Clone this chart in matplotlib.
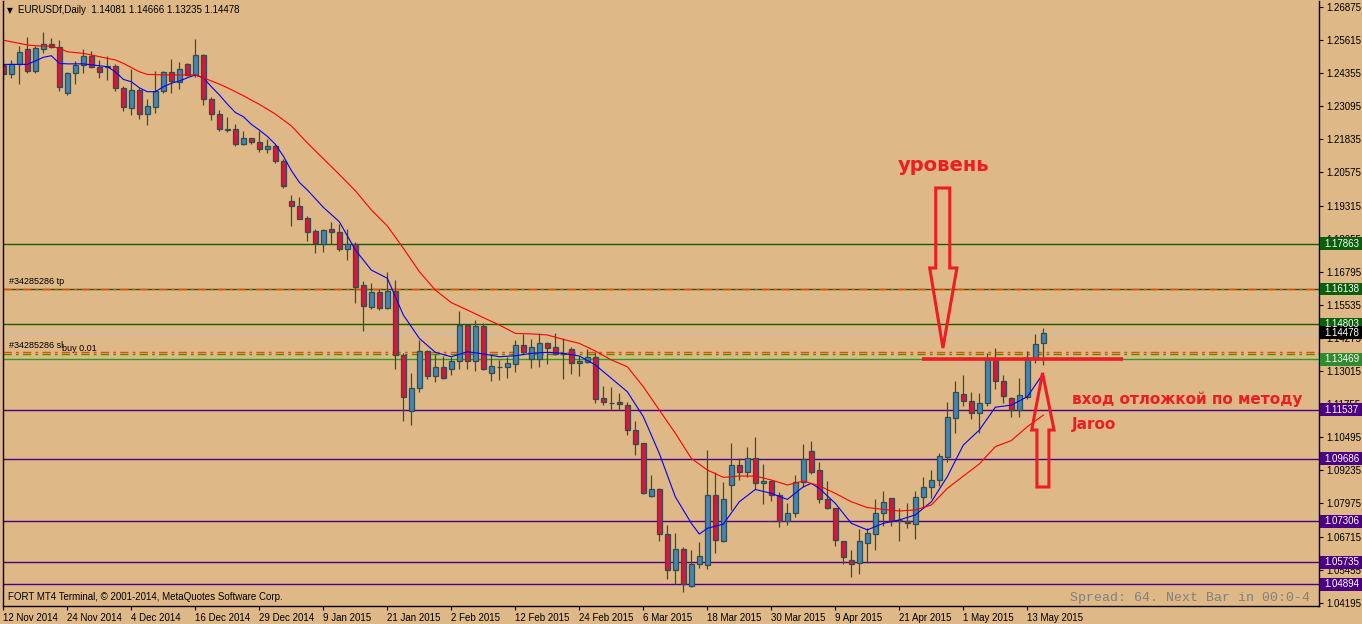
import matplotlib
matplotlib.use("Agg")
import matplotlib.pyplot as plt
import matplotlib.transforms as mtransforms
from matplotlib.patches import Polygon, Rectangle
import numpy as np

# daily EURUSDf candles, 12 Nov 2014 .. 15 May 2015 (bar index 0..130)
opens = [
    1.2467, 1.2431, 1.2469, 1.2528, 1.2443, 1.2526, 1.2545, 1.2534, 1.2361, 1.2435,
    1.2465, 1.2500, 1.2458, 1.2463, 1.2462, 1.2378, 1.2302, 1.2372, 1.2279, 1.2306,
    1.2367, 1.2439, 1.2401, 1.2469, 1.2427, 1.2504, 1.2336, 1.2280, 1.2222, 1.2222,
    1.2165, 1.2188, 1.2172, 1.2146, 1.2158, 1.2100, 1.1948, 1.1929, 1.1883, 1.1834,
    1.1784, 1.1841, 1.1830, 1.1765, 1.1784, 1.1628, 1.1547, 1.1601, 1.1543, 1.1606,
    1.1364, 1.1148, 1.1236, 1.1377, 1.1282, 1.1316, 1.1308, 1.1339, 1.1476, 1.1339,
    1.1473, 1.1293, 1.1317, 1.1316, 1.1329, 1.1400, 1.1346, 1.1349, 1.1407, 1.1392,
    1.1372, 1.1384, 1.1331, 1.1335, 1.1354, 1.1198, 1.1179, 1.1184, 1.1171, 1.1077,
    1.1026, 1.0827, 1.0851, 1.0680, 1.0543, 1.0623, 1.0485, 1.0566, 1.0562, 1.0829,
    1.0656, 1.0867, 1.0943, 1.0916, 1.0969, 1.0874, 1.0882, 1.0829, 1.0731, 1.0760,
    1.0879, 1.0996, 1.0924, 1.0813, 1.0779, 1.0655, 1.0582, 1.0570, 1.0648, 1.0680,
    1.0763, 1.0817, 1.0731, 1.0731, 1.0718, 1.0821, 1.0859, 1.0886, 1.0973, 1.1122,
    1.1213, 1.1186, 1.1141, 1.1179, 1.1346, 1.1262, 1.1198, 1.1153, 1.1202, 1.1346,
    1.14081]
highs = [
    1.2492, 1.2486, 1.2539, 1.2572, 1.2538, 1.2592, 1.2568, 1.2562, 1.2440, 1.2481,
    1.2528, 1.2520, 1.2486, 1.2501, 1.2471, 1.2387, 1.2451, 1.2378, 1.2337, 1.2444,
    1.2444, 1.2490, 1.2477, 1.2474, 1.2566, 1.2507, 1.2346, 1.2295, 1.2269, 1.2241,
    1.2215, 1.2188, 1.2217, 1.2185, 1.2165, 1.2110, 1.1972, 1.1964, 1.1892, 1.1841,
    1.1841, 1.1869, 1.1860, 1.1841, 1.1794, 1.1645, 1.1637, 1.1614, 1.1677, 1.1648,
    1.1370, 1.1294, 1.1419, 1.1383, 1.1368, 1.1360, 1.1356, 1.1530, 1.1479, 1.1495,
    1.1485, 1.1361, 1.1342, 1.1356, 1.1420, 1.1443, 1.1425, 1.1445, 1.1412, 1.1445,
    1.1426, 1.1392, 1.1359, 1.1384, 1.1374, 1.1245, 1.1241, 1.1217, 1.1184, 1.1110,
    1.1029, 1.0906, 1.0855, 1.0716, 1.0686, 1.0633, 1.0620, 1.0650, 1.1001, 1.0916,
    1.0878, 1.1026, 1.0971, 1.1013, 1.1051, 1.0948, 1.0887, 1.0843, 1.0798, 1.0906,
    1.1024, 1.1035, 1.0954, 1.0884, 1.0779, 1.0655, 1.0620, 1.0699, 1.0703, 1.0816,
    1.0846, 1.0820, 1.0782, 1.0799, 1.0844, 1.0897, 1.0926, 1.0990, 1.1184, 1.1264,
    1.1288, 1.1222, 1.1219, 1.1369, 1.1388, 1.1288, 1.1204, 1.1274, 1.1378, 1.1443,
    1.14666]
lows = [
    1.2410, 1.2418, 1.2393, 1.2438, 1.2438, 1.2511, 1.2530, 1.2369, 1.2354, 1.2396,
    1.2438, 1.2457, 1.2418, 1.2410, 1.2369, 1.2293, 1.2275, 1.2262, 1.2240, 1.2285,
    1.2361, 1.2361, 1.2377, 1.2426, 1.2420, 1.2313, 1.2259, 1.2214, 1.2210, 1.2160,
    1.2162, 1.2165, 1.2137, 1.2132, 1.2093, 1.1999, 1.1855, 1.1879, 1.1798, 1.1750,
    1.1756, 1.1784, 1.1759, 1.1723, 1.1562, 1.1455, 1.1538, 1.1534, 1.1537, 1.1311,
    1.1113, 1.1095, 1.1221, 1.1273, 1.1259, 1.1273, 1.1287, 1.1308, 1.1311, 1.1301,
    1.1306, 1.1265, 1.1269, 1.1276, 1.1299, 1.1365, 1.1315, 1.1318, 1.1330, 1.1363,
    1.1271, 1.1290, 1.1284, 1.1331, 1.1181, 1.1172, 1.1153, 1.1153, 1.1058, 1.0983,
    1.0834, 1.0821, 1.0656, 1.0511, 1.0490, 1.0462, 1.0478, 1.0551, 1.0547, 1.0610,
    1.0652, 1.0773, 1.0888, 1.0900, 1.0851, 1.0797, 1.0808, 1.0709, 1.0717, 1.0747,
    1.0861, 1.0908, 1.0801, 1.0776, 1.0637, 1.0566, 1.0519, 1.0529, 1.0570, 1.0622,
    1.0713, 1.0712, 1.0656, 1.0705, 1.0664, 1.0779, 1.0817, 1.0865, 1.0957, 1.1067,
    1.1170, 1.1118, 1.1065, 1.1170, 1.1232, 1.1179, 1.1125, 1.1128, 1.1195, 1.1334,
    1.13235]
closes = [
    1.2431, 1.2469, 1.2515, 1.2443, 1.2531, 1.2545, 1.2534, 1.2382, 1.2435, 1.2467,
    1.2500, 1.2458, 1.2439, 1.2459, 1.2378, 1.2306, 1.2372, 1.2279, 1.2311, 1.2367,
    1.2439, 1.2405, 1.2451, 1.2430, 1.2505, 1.2336, 1.2279, 1.2222, 1.2218, 1.2165,
    1.2189, 1.2172, 1.2146, 1.2158, 1.2100, 1.2005, 1.1929, 1.1882, 1.1832, 1.1788,
    1.1837, 1.1830, 1.1765, 1.1784, 1.1623, 1.1551, 1.1603, 1.1543, 1.1606, 1.1362,
    1.1202, 1.1236, 1.1377, 1.1282, 1.1316, 1.1276, 1.1339, 1.1476, 1.1339, 1.1473,
    1.1308, 1.1320, 1.1318, 1.1331, 1.1400, 1.1374, 1.1392, 1.1407, 1.1391, 1.1365,
    1.1368, 1.1331, 1.1340, 1.1356, 1.1194, 1.1183, 1.1180, 1.1175, 1.1077, 1.1025,
    1.0836, 1.0851, 1.0680, 1.0544, 1.0623, 1.0491, 1.0566, 1.0596, 1.0829, 1.0657,
    1.0813, 1.0943, 1.0916, 1.0969, 1.0874, 1.0882, 1.0829, 1.0731, 1.0760, 1.0878,
    1.0966, 1.0919, 1.0813, 1.0779, 1.0657, 1.0595, 1.0566, 1.0655, 1.0684, 1.0761,
    1.0802, 1.0731, 1.0736, 1.0723, 1.0822, 1.0859, 1.0886, 1.0978, 1.1125, 1.1222,
    1.1186, 1.1141, 1.1179, 1.1346, 1.1262, 1.1205, 1.1153, 1.1209, 1.1346, 1.1405,
    1.14478]

# moving averages (bar index, price)
fast_bars = [0, 3, 4, 5, 6, 7, 8, 10, 12, 13, 14, 15, 16, 17, 18, 19, 20, 21, 22, 23,
             24, 25, 26, 27, 28, 29, 30, 31, 32, 33, 34, 35, 36, 37, 38, 40, 42, 44, 46, 48,
             50, 52, 54, 56, 58, 60, 62, 64, 66, 68, 70, 72, 74, 76, 78, 80, 82, 84, 86, 87,
             88, 90, 92, 94, 96, 98, 100, 101, 102, 104, 106, 108, 110, 112, 114, 116, 118,
             120, 122, 124, 126, 128, 130]
fast_ma = [1.2469, 1.2469, 1.2482, 1.2496, 1.2502, 1.2473, 1.2471, 1.2471, 1.2464, 1.2460,
           1.2441, 1.2412, 1.2403, 1.2380, 1.2365, 1.2365, 1.2384, 1.2397, 1.2406, 1.2418,
           1.2429, 1.2418, 1.2384, 1.2353, 1.2318, 1.2286, 1.2270, 1.2241, 1.2219, 1.2195,
           1.2165, 1.2120, 1.2065, 1.2020, 1.1991, 1.1925, 1.1870, 1.1763, 1.1686, 1.1655,
           1.1515, 1.1426, 1.1373, 1.1356, 1.1375, 1.1367, 1.1356, 1.1360, 1.1369, 1.1373,
           1.1369, 1.1359, 1.1325, 1.1274, 1.1223, 1.1128, 1.0988, 1.0823, 1.0722, 1.0681,
           1.0703, 1.0719, 1.0804, 1.0851, 1.0836, 1.0813, 1.0861, 1.0874, 1.0855, 1.0798,
           1.0722, 1.0697, 1.0722, 1.0735, 1.0754, 1.0804, 1.0900, 1.1020, 1.1077, 1.1164,
           1.1172, 1.1204, 1.1293]
slow_bars = [0, 3, 4, 6, 7, 8, 10, 11, 13, 14, 15, 16, 17, 18, 20, 22, 24, 25, 26, 27,
             28, 29, 30, 31, 32, 34, 36, 38, 40, 42, 44, 46, 48, 50, 52, 54, 56, 58, 60, 62,
             64, 66, 68, 70, 72, 74, 76, 78, 80, 82, 84, 86, 88, 90, 92, 94, 96, 98, 100,
             102, 104, 106, 108, 110, 112, 114, 116, 118, 120, 122, 124, 126, 128, 130]
slow_ma = [1.2561, 1.2543, 1.2540, 1.2538, 1.2530, 1.2517, 1.2511, 1.2505, 1.2492, 1.2486,
           1.2473, 1.2457, 1.2441, 1.2431, 1.2429, 1.2429, 1.2429, 1.2418, 1.2406, 1.2394,
           1.2380, 1.2365, 1.2350, 1.2333, 1.2317, 1.2280, 1.2235, 1.2170, 1.2110, 1.2050,
           1.1988, 1.1915, 1.1854, 1.1769, 1.1680, 1.1610, 1.1562, 1.1534, 1.1505, 1.1477,
           1.1445, 1.1443, 1.1439, 1.1422, 1.1407, 1.1378, 1.1344, 1.1318, 1.1242, 1.1153,
           1.1065, 1.0969, 1.0925, 1.0897, 1.0902, 1.0902, 1.0887, 1.0868, 1.0883, 1.0865,
           1.0836, 1.0804, 1.0782, 1.0775, 1.0769, 1.0773, 1.0792, 1.0855, 1.0902, 1.0948,
           1.1014, 1.1037, 1.1090, 1.1134]

date_bars = [0, 8, 16, 24, 32, 40, 48, 56, 64, 72, 80, 88, 96, 104, 112, 120, 128]
date_labels = ["12 Nov 2014", "24 Nov 2014", "4 Dec 2014", "16 Dec 2014", "29 Dec 2014",
               "9 Jan 2015", "21 Jan 2015", "2 Feb 2015", "12 Feb 2015", "24 Feb 2015",
               "6 Mar 2015", "18 Mar 2015", "30 Mar 2015", "9 Apr 2015", "21 Apr 2015",
               "1 May 2015", "13 May 2015"]
price_ticks = [1.26875, 1.25615, 1.24355, 1.23095, 1.21835, 1.20575, 1.19315, 1.18055,
               1.16795, 1.15535, 1.14275, 1.13015, 1.11755, 1.10495, 1.09235, 1.07975,
               1.06715, 1.05455, 1.04195]

# horizontal line objects: price, line colour, label box colour
hlines = [
    (1.17863, "#1E5A00", "#0B5E0B"),
    (1.16138, "#1E5A00", "#0B5E0B"),
    (1.14803, "#1E5A00", "#0B5E0B"),
    (1.13469, "#2E9A22", "#2E8B2E"),
    (1.11537, "#4B0082", "#4B0082"),
    (1.09686, "#4B0082", "#4B0082"),
    (1.07306, "#4B0082", "#4B0082"),
    (1.05735, "#4B0082", "#4B0082"),
    (1.04894, "#4B0082", "#4B0082"),
]
bid = 1.14478
tp_price = 1.16138
sl_price = 1.13742
order_price = 1.13653

BG = "#DEB887"
BULL = "#4682B4"
BEAR = "#DC143C"
EDGE = "#2F4F4F"
RED = "#EE1C25"
FONT = "Liberation Sans"

fig = plt.figure(figsize=(13.62, 6.24), dpi=100, facecolor=BG)
ax = fig.add_axes([3 / 1362, 18 / 624, 1316 / 1362, 605 / 624], facecolor=BG)
ax.set_xlim(-0.04, 164.46)
ax.set_ylim(1.04073, 1.27103)

idx = np.arange(len(opens))
o = np.array(opens)
c = np.array(closes)

# horizontal levels
for price, col, _ in hlines:
    ax.axhline(price, color=col, lw=1.0, zorder=1)
ax.axhline(bid, color="#C0C0C0", lw=0.8, zorder=1)
ax.axhline(tp_price, color="#FF4500", lw=1.0, dashes=(6, 3, 2, 3), zorder=1.1)
ax.axhline(sl_price, color="#FF4500", lw=1.0, dashes=(6, 3, 2, 3), zorder=1.1)
ax.axhline(order_price, color="#3A9A00", lw=1.0, dashes=(6, 3, 2, 3), zorder=1.1)

# candles
ax.vlines(idx, lows, highs, color=EDGE, lw=0.9, zorder=2)
body_bottom = np.minimum(o, c)
body_h = np.maximum(np.abs(c - o), 0.00005)
cols = [BULL if cc >= oo else BEAR for oo, cc in zip(o, c)]
ax.bar(idx, body_h, bottom=body_bottom, width=0.64, color=cols, edgecolor=EDGE,
       linewidth=0.9, zorder=2.2)

# moving averages
ax.plot(fast_bars, fast_ma, color="#0000FF", lw=0.8, zorder=2.5)
ax.plot(slow_bars, slow_ma, color="#FF0000", lw=0.8, zorder=2.5)

# axes styling
ax.spines["top"].set_visible(False)
for s in ["left", "right", "bottom"]:
    ax.spines[s].set_color("black")
    ax.spines[s].set_linewidth(1.0)

ax.yaxis.tick_right()
ax.set_yticks(price_ticks)
ax.set_yticklabels([f"{t:.5f}" for t in price_ticks])
ax.set_xticks(date_bars)
ax.set_xticklabels(date_labels, ha="left")
ax.tick_params(axis="y", direction="out", length=3, width=0.8, pad=2,
               labelsize=7, labelcolor="black")
ax.tick_params(axis="x", direction="out", length=3, width=0.8, pad=2,
               labelsize=7, labelcolor="black")
for lab in ax.get_xticklabels() + ax.get_yticklabels():
    lab.set_fontfamily(FONT)

# price boxes on the right scale
btr = mtransforms.blended_transform_factory(ax.transAxes, ax.transData)
box_w = 43 / 1316
box_h = 0.0049
boxes = [(p, bc) for p, _, bc in hlines] + [(bid, "#000000")]
for price, bc in boxes:
    ax.add_patch(Rectangle((1.0005, price - box_h / 2), box_w, box_h, transform=btr,
                           facecolor=bc, edgecolor="none", clip_on=False, zorder=5))
    ax.text(1.0 + 5 / 1316, price, f"{price:.5f}", transform=btr, color="white",
            fontsize=7, family=FONT, va="center", ha="left", clip_on=False, zorder=6)

# header and footer texts
ax.text(4 / 1316, 0.985, "▼", transform=ax.transAxes, fontsize=5.5, va="center",
        family="DejaVu Sans")
ax.text(15 / 1316, 0.985, "EURUSDf,Daily  1.14081 1.14666 1.13235 1.14478",
        transform=ax.transAxes, fontsize=7, va="center", family=FONT)
ax.text(5 / 1316, 0.0149, "FORT MT4 Terminal, © 2001-2014, MetaQuotes Software Corp.",
        transform=ax.transAxes, fontsize=7, va="center", family=FONT)
ax.text(1307 / 1316, 0.0132, "Spread: 64. Next Bar in 00:0-4", transform=ax.transAxes,
        fontsize=9.5, va="center", ha="right", color="#808080", family="Liberation Mono")
ax.text(0.75, tp_price + 0.0013, "#34285286 tp", fontsize=6.5, family=FONT,
        va="bottom", ha="left")
ax.text(0.75, sl_price + 0.0009, "#34285286 sl", fontsize=6.5, family=FONT,
        va="bottom", ha="left")
ax.text(7.3, sl_price - 0.0004, "buy 0.01", fontsize=6.5, family=FONT,
        va="bottom", ha="left")

# hand-drawn annotations
ax.plot([114.8, 139.9], [1.1348, 1.1348], color=RED, lw=2.6, zorder=4,
        solid_capstyle="butt")
down_arrow = [(116.55, 1.19985), (118.3, 1.19985), (118.3, 1.1694), (119.2, 1.1694),
              (117.45, 1.13894), (115.8, 1.1694), (116.55, 1.1694)]
up_arrow = [(129.2, 1.08603), (130.7, 1.08603), (130.7, 1.10773), (131.34, 1.10773),
            (129.9, 1.12943), (128.55, 1.10773), (129.2, 1.10773)]
for pts in (down_arrow, up_arrow):
    ax.add_patch(Polygon(pts, closed=True, fill=False, edgecolor=RED, lw=2.2, zorder=4))
ax.text(111.8, 1.20632, "уровень", color=RED, fontsize=14, fontweight="bold",
        family="DejaVu Sans", va="baseline", ha="left")
ax.text(133.6, 1.11762, "вход отложкой по методу", color=RED, fontsize=11,
        fontweight="bold", family="DejaVu Sans", va="baseline", ha="left")
ax.text(133.6, 1.10811, "Jaroo", color=RED, fontsize=11, fontweight="bold",
        family="DejaVu Sans", va="baseline", ha="left")

fig.savefig("out.png", dpi=100, facecolor=BG)
